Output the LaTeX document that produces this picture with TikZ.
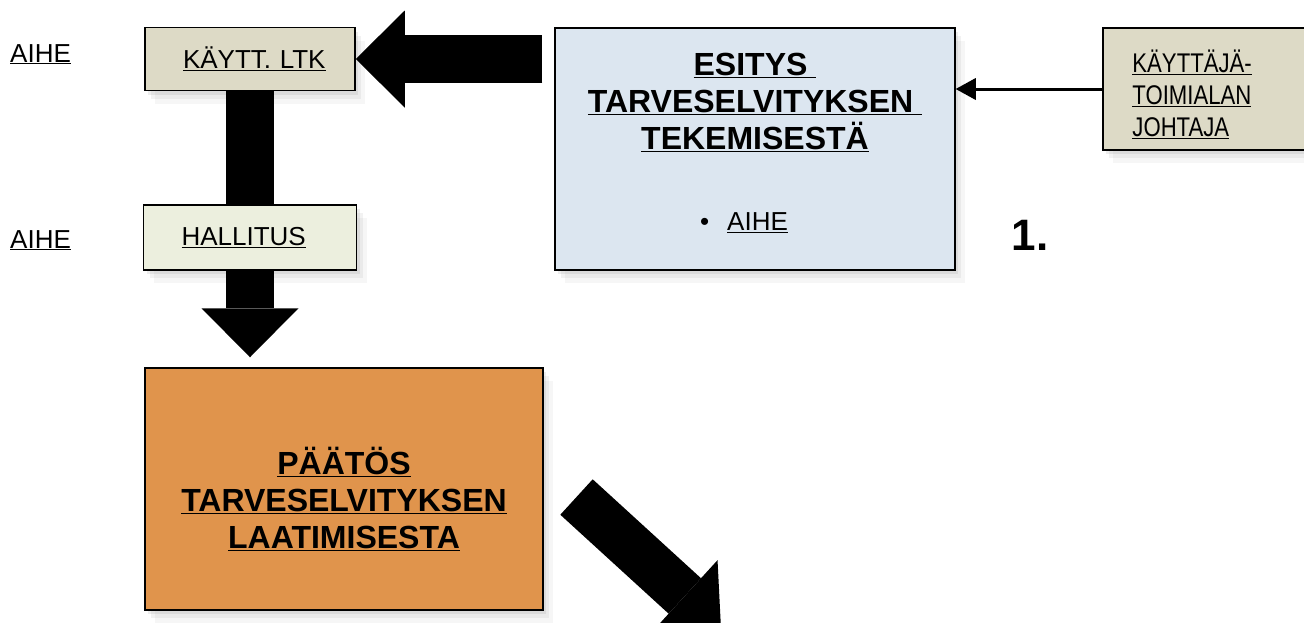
\documentclass[tikz,border=0pt]{standalone}
\usepackage{fontspec}
\setmainfont{Liberation Sans}
\newfontfamily\narrowfont[FakeStretch=0.82]{Liberation Sans}
\usetikzlibrary{arrows.meta,shadows,positioning}
\definecolor{ltkfill}{RGB}{221,218,198}
\definecolor{hallfill}{RGB}{236,239,222}
\definecolor{esitysfill}{RGB}{220,230,240}
\definecolor{paatosfill}{RGB}{224,148,76}
\begin{document}
\begin{tikzpicture}[x=1pt,y=-1pt,
  every node/.style={inner sep=0pt},
  box/.style={draw,line width=1.5pt,
    drop shadow={opacity=0.07,shadow xshift=10pt,shadow yshift=-13pt},
    drop shadow={opacity=0.1,shadow xshift=6pt,shadow yshift=-8pt},
    drop shadow={opacity=0.14,shadow xshift=3pt,shadow yshift=-4pt}},
  reg/.style={font=\fontsize{26}{31}\selectfont},
  bold/.style={font=\fontsize{32}{37}\selectfont\bfseries,align=center},
  block/.style={line width=48pt,-{Triangle[length=49pt,width=97pt,line width=0pt]}}]
  \useasboundingbox (0,0) rectangle (1304,622);
  % boxes
  \node[box,fill=ltkfill,minimum width=210pt,minimum height=63pt,text width=134pt,align=left,inner xsep=38pt,reg] (ltk) at (250,59) {\underline{KÄYTT. LTK}};
  \node[box,fill=hallfill,minimum width=213pt,minimum height=65pt,text width=137pt,align=left,inner xsep=38pt,reg] (hall) at (250,237.5) {\underline{HALLITUS}};
  \node[box,fill=paatosfill,minimum width=398pt,minimum height=242pt] (paatos) at (344,489) {};
  \node[box,fill=esitysfill,minimum width=400pt,minimum height=242pt] (esitys) at (755,149) {};
  \node[box,fill=ltkfill,minimum width=218pt,minimum height=122pt] (johtaja) at (1212,89) {};
  % box texts
  \node[bold] (paatostxt) at ([yshift=-10pt]paatos.center) {\underline{PÄÄTÖS}\\\underline{TARVESELVITYKSEN}\\\underline{LAATIMISESTA}};
  \node[bold] (esitystxt) at ([yshift=6pt]esitys.center) {\underline{ESITYS\ }\\\underline{TARVESELVITYKSEN\ }\\\underline{TEKEMISESTÄ}\\[44pt]
    {\fontsize{26}{31}\selectfont\mdseries\mbox{\textbullet\hspace{18pt}\underline{AIHE}\hspace{22pt}}}};
  \node[anchor=west,align=left,font=\fontsize{27}{32}\selectfont\narrowfont] (johtajatxt) at ([xshift=30pt,yshift=-5pt]johtaja.west) {\underline{KÄYTTÄJÄ-}\\\underline{TOIMIALAN}\\\underline{JOHTAJA}};
  % labels
  \node[reg,anchor=base west] (aihe1) at (10,62) {\underline{AIHE}};
  \node[reg,anchor=base west] (aihe2) at (10,248) {\underline{AIHE}};
  \node[font=\fontsize{44}{44}\selectfont\bfseries] (num) at (1030,235) {1.};
  % arrows
  \draw[block,shorten <=12pt] (esitys.west |- ltk.east) -- (ltk.east);
  \draw[line width=48pt] (ltk.south) -- (ltk.south |- hall.north);
  \draw[block,shorten >=10pt] (hall.south) -- (hall.south |- paatos.north);
  \draw[line width=3pt,-{Triangle[length=20pt,width=22pt,line width=0pt]}] (johtaja.west) -- (johtaja.west -| esitys.east);
  \coordinate (diagstart) at (576.5,497);
  \coordinate (diagtip) at (721,629);
  \draw[block] (diagstart) -- (diagtip);
\end{tikzpicture}
\end{document}
